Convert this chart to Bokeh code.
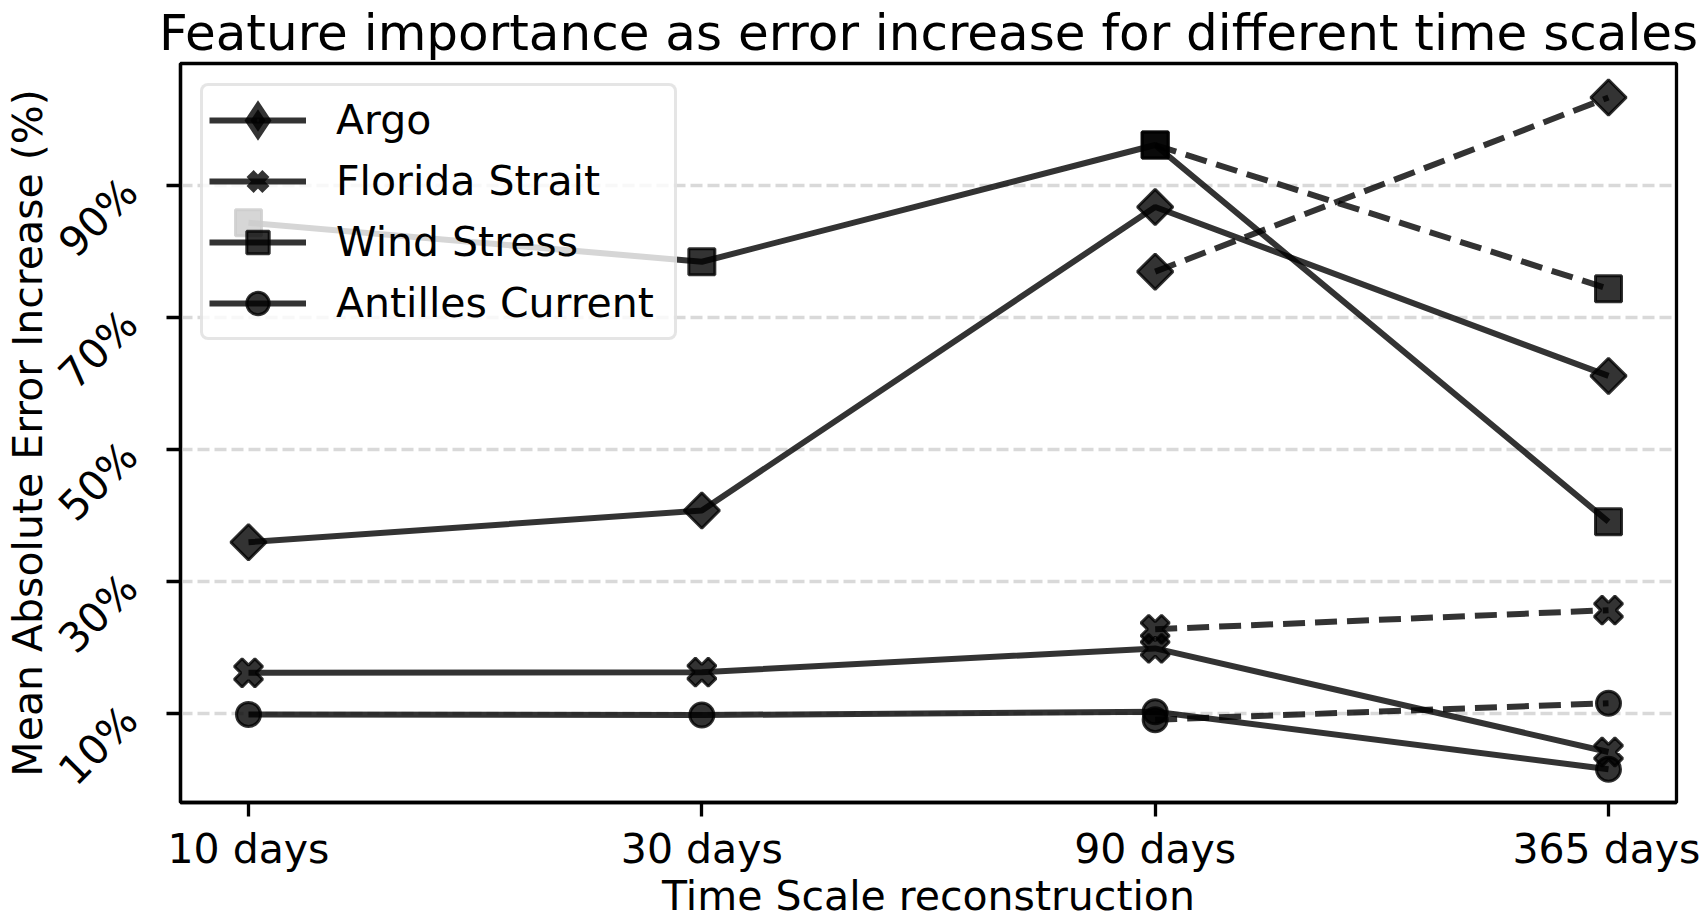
import math
from bokeh.plotting import figure
from bokeh.models import (FixedTicker, PrintfTickFormatter, Range1d, Legend,
                          LegendItem, ColumnDataSource, Title)
from bokeh.embed import file_html
from bokeh.resources import INLINE

# ---------------- data ----------------
categories = ["10 days", "30 days", "90 days", "365 days"]
dash_categories = ["90 days", "365 days"]

argo = [35.9, 40.7, 86.7, 61.1]
argo_dash = [76.9, 103.3]
florida = [16.1, 16.2, 19.8, 4.1]
florida_dash = [22.7, 25.6]
wind = [84.3, 78.4, 96.1, 39.0]
wind_dash = [96.1, 74.3]
antilles = [9.8, 9.7, 10.2, 1.5]
antilles_dash = [9.0, 11.5]

series_names = ["Argo", "Florida Strait", "Wind Stress", "Antilles Current"]
y_ticks = [10, 30, 50, 70, 90]

title_text = "Feature importance as error increase for different time scales"
x_title = "Time Scale reconstruction"
y_title = "Mean Absolute Error Increase (%)"

FONT = "DejaVu Sans"

x_idx = [categories.index(c) for c in categories]
xd_idx = [categories.index(c) for c in dash_categories]

p = figure(width=1700, height=920, output_backend="svg", toolbar_location=None,
           x_range=Range1d(-0.15, 3.15), y_range=Range1d(-3.55, 108.45),
           min_border_left=180, min_border_right=24, min_border_top=63,
           min_border_bottom=118, title=title_text)

p.title.text_font = FONT
p.title.text_font_size = "50px"
p.title.text_font_style = "normal"
p.title.align = "center"
p.title.vertical_align = "top"
p.title.standoff = 0
p.title.text_color = "black"

p.outline_line_color = "black"
p.outline_line_width = 3.3
p.background_fill_color = "white"
p.border_fill_color = "white"

p.xgrid.visible = False
p.ygrid.ticker = FixedTicker(ticks=y_ticks)
p.ygrid.grid_line_color = "#d9d9d9"
p.ygrid.grid_line_width = 3.3
p.ygrid.grid_line_dash = "12 5"

p.xaxis.ticker = FixedTicker(ticks=x_idx)
p.xaxis.major_label_overrides = {i: c for i, c in zip(x_idx, categories)}
p.yaxis.ticker = FixedTicker(ticks=y_ticks)
p.yaxis.formatter = PrintfTickFormatter(format="%d%%")
p.yaxis.major_label_orientation = math.pi / 4

for ax in (p.xaxis, p.yaxis):
    ax.axis_line_color = "black"
    ax.axis_line_width = 3.3
    ax.major_tick_line_color = "black"
    ax.major_tick_line_width = 3.3
    ax.major_tick_out = 14
    ax.major_tick_in = 0
    ax.minor_tick_line_color = None
    ax.major_label_text_font = FONT
    ax.major_label_text_font_size = "41px"
    ax.major_label_text_color = "black"
    ax.axis_label_text_font = FONT
    ax.axis_label_text_font_size = "41px"
    ax.axis_label_text_font_style = "normal"
    ax.axis_label_text_color = "black"

p.yaxis.axis_label = y_title
p.xaxis.major_label_standoff = 8
p.yaxis.major_label_standoff = 36
p.yaxis.axis_label_standoff = -23

# x-axis title as a below-panel title, tucked tight under the tick labels
p.add_layout(Title(text=x_title, align="center", vertical_align="bottom",
                   standoff=-12, text_font=FONT, text_font_size="41px",
                   text_font_style="normal", text_color="black"), "below")

solid_vals = [argo, florida, wind, antilles]
dash_vals = [argo_dash, florida_dash, wind_dash, antilles_dash]
markers = {"Argo": ("square", math.pi / 4, 25),
           "Florida Strait": ("plus", math.pi / 4, 29),
           "Wind Stress": ("square", 0.0, 26),
           "Antilles Current": ("circle", 0.0, 24)}
# legend keys are never rotated, so rotated markers get an upright stand-in
legend_markers = {"Argo": ("diamond", 10), "Florida Strait": ("x", 10)}

LW = 6
items = []
for name, sv in zip(series_names, solid_vals):
    src = ColumnDataSource(dict(x=x_idx, y=sv))
    lr = p.line("x", "y", source=src, line_color="black", line_alpha=0.8,
                line_width=LW)
    mk, ang, sz = markers[name]
    sr = p.scatter("x", "y", source=src, marker=mk, angle=ang, size=sz,
                   fill_color="black", fill_alpha=0.8, line_color="black",
                   line_alpha=0.8, line_width=3)
    if name in legend_markers:
        lmk, llw = legend_markers[name]
        kr = p.scatter("x", "y", source=src, marker=lmk, size=sz,
                       fill_color="black", fill_alpha=0.8, line_color="black",
                       line_alpha=0.8, line_width=llw, line_join="miter",
                       visible=False)
        items.append(LegendItem(label=name, renderers=[lr, kr]))
    else:
        items.append(LegendItem(label=name, renderers=[lr, sr]))

for name, dv in zip(series_names, dash_vals):
    src = ColumnDataSource(dict(x=xd_idx, y=dv))
    p.line("x", "y", source=src, line_color="black", line_alpha=0.8,
           line_width=LW, line_dash="22 10")
    mk, ang, sz = markers[name]
    p.scatter("x", "y", source=src, marker=mk, angle=ang, size=sz,
              fill_color="black", fill_alpha=0.8, line_color="black",
              line_alpha=0.8, line_width=3)

legend = Legend(items=items, location="top_left", margin=20, padding=6,
                spacing=5, glyph_width=97, glyph_height=56, label_height=44,
                label_width=332, label_standoff=30, label_text_font=FONT,
                label_text_font_size="41px", label_text_color="black",
                border_line_color="#cccccc", border_line_width=3.3,
                background_fill_color="white", background_fill_alpha=0.8,
                inactive_fill_alpha=0.0)
if "border_radius" in Legend.properties():
    legend.border_radius = 8
p.add_layout(legend)

open("out.html", "w").write(file_html(p, INLINE))
